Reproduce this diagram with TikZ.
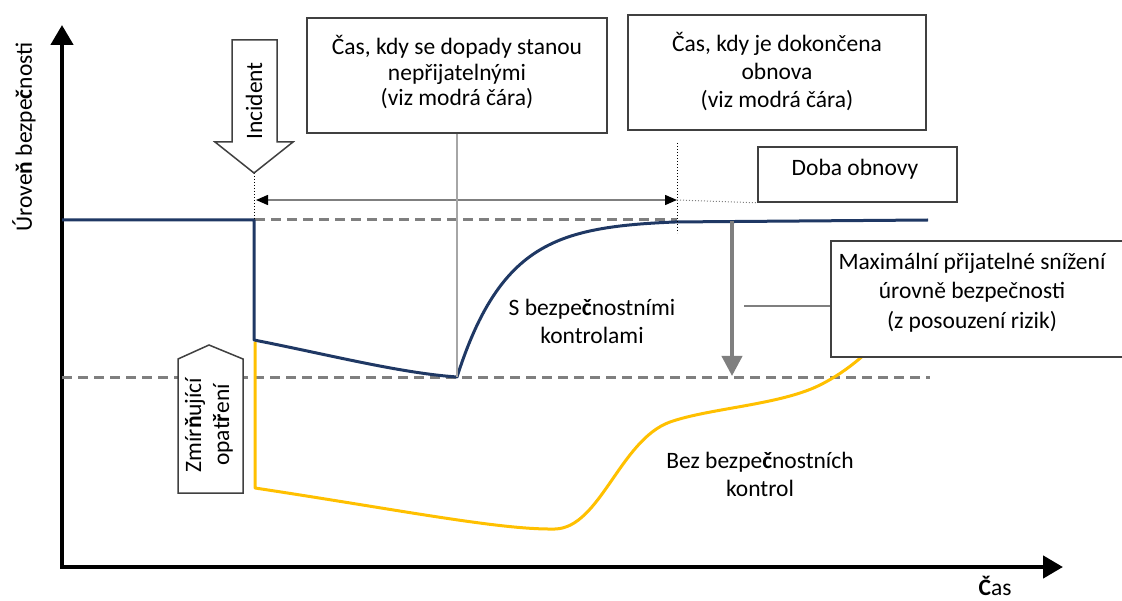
\documentclass[tikz,border=0pt]{standalone}
\usepackage{fontspec}
\setmainfont{Carlito}
\usetikzlibrary{arrows.meta}
\definecolor{navy}{RGB}{31,56,100}
\definecolor{amber}{RGB}{255,192,0}
\definecolor{midgray}{RGB}{127,127,127}
\definecolor{edgegray}{RGB}{64,64,64}
\begin{document}
\begin{tikzpicture}[x=1pt,y=-1pt,
  txt/.style={font=\fontsize{23.5}{28}\selectfont, align=center, inner sep=0pt},
  infobox/.style={draw=edgegray, fill=white, line width=1.6pt, inner sep=0pt},
  level/.style={midgray, line width=3pt, dash pattern=on 10pt off 6pt},
  axis/.style={line width=4.5pt, -{Triangle[length=20pt,width=22pt]}},
  blockarrow/.style={draw=edgegray, fill=white, line width=1.5pt, line join=miter},
  guide/.style={black, line width=1pt, dotted}]
\useasboundingbox (0,0) rectangle (1122,601);

% axes
\coordinate (origin) at (60,567);
\coordinate (ytop) at (62,25);
\coordinate (xend) at (1063,567);
\draw[axis] (origin) -- (ytop |- origin) -- (ytop);
\draw[axis] (origin) -- (xend);
\node[txt, rotate=90] (ylabel) at (24,137) {Úrove\textbf{ň} bezpe\textbf{č}nosti};
\node[txt, anchor=base] (xlabel) at (995,595) {\textbf{Č}as};

% reference levels
\draw[level] (62,378) -- (930,378);
\draw[level] (255,220) -- (677,220);

% level with security controls
\draw[navy, line width=3pt, line join=round]
  (62,220) -- (254,220) -- (254,340) .. controls (330,355) and (400,373) .. (457,377)
  -- plot[domain=457:676, samples=80] (\x, {220+157*exp(-(\x-457)/50)})
  -- (928,220);

% level without security controls
\draw[amber, line width=3pt, line join=round]
  (255,342) -- (255,488)
  .. controls (400,510) and (500,530) .. (555,529)
  .. controls (600,528) and (620,440) .. (670,422)
  .. controls (710,408) and (780,405) .. (820,385)
  .. controls (850,370) and (870,350) .. (890,330);

% marker from the incident
\coordinate (inctip) at (254,173);
\draw[guide] (inctip) -- (254,220);

% recovery time span
\coordinate (spanL) at (256,200);
\coordinate (spanR) at (677,200);
\draw[midgray, line width=1.5pt,
  {Triangle[length=12pt,width=10pt,color=black]}-{Triangle[length=12pt,width=10pt,color=black]}]
  (spanL) -- (spanR);
\draw[guide] (677,143) -- (677,233);

% callout boxes
\node[infobox, minimum width=300pt, minimum height=115pt] (b1) at (457,75.5) {};
\node[txt, font=\fontsize{23.5}{25.5}\selectfont] (t1) at (457,72.5)
  {Čas, kdy se dopady stanou\\nepřijatelnými\\(viz modrá čára)};
\node[infobox, minimum width=298pt, minimum height=115pt] (b2) at (777,72.5) {};
\node[txt] (t2) at (777,71.5) {Čas, kdy je dokončena\\obnova\\(viz modrá čára)};
\node[infobox, minimum width=199pt, minimum height=55pt] (b3) at (857.5,174.5) {};
\node[txt] (t3) at (855,169) {Doba obnovy};
\node[infobox, minimum width=296pt, minimum height=116pt] (b4) at (979,299) {};
\node[txt, font=\fontsize{23.5}{29.5}\selectfont] (t4) at (972,292.5)
  {Maximální přijatelné snížení\\úrovně bezpečnosti\\(z posouzení rizik)};

\coordinate (lowmin) at (457,377);
\draw[gray!70, line width=1.5pt] (b1.south) -- (lowmin);
\draw[midgray, line width=1pt, dotted] (spanR) -- (b3.south west);

% maximum acceptable drop
\coordinate (droptop) at (732,221);
\coordinate (dropbot) at (732,376);
\draw[midgray, line width=4pt, -{Triangle[length=20pt,width=20pt]}] (droptop) -- (dropbot);
\coordinate (leaderstart) at (744,306);
\draw[midgray, line width=2pt] (leaderstart) -- (leaderstart -| b4.west);

% curve labels
\node[txt] (lblA) at (592,321) {S bezpe\textbf{č}nostními\\kontrolami};
\node[txt] (lblB) at (760,474) {Bez bezpe\textbf{č}nostních\\kontrol};

% incident block arrow
\draw[blockarrow] (232,40) -- (277,40) -- (277,142) -- (293,142) -- (inctip)
  -- (215,142) -- (232,142) -- cycle;
\node[txt, rotate=90] (incident) at (254,101) {Incident};

% mitigation block arrow
\draw[blockarrow] (178,359) -- (209,345) -- (243,359) -- (243,493) -- (178,493) -- cycle;
\node[txt, rotate=90] (mitig) at (209,425) {Zmír\textbf{ň}ující\\opat\textbf{ř}ení};
\end{tikzpicture}
\end{document}
